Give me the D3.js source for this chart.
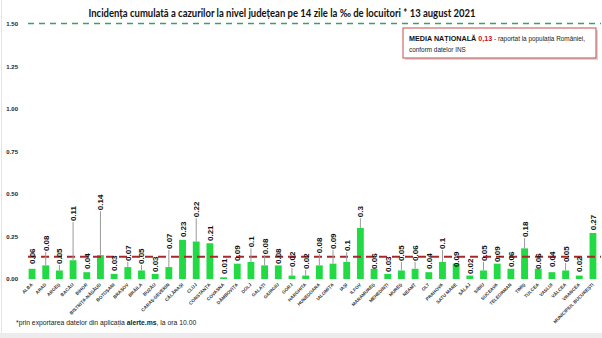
<!DOCTYPE html>
<html><head><meta charset="utf-8">
<script src="https://cdn.jsdelivr.net/npm/d3@7"></script>
<style>body{margin:0;background:#fff}svg{display:block}</style>
</head><body><svg id="c" width="602" height="338"></svg>
<script>
const counties = ["ALBA","ARAD","ARGEȘ","BACĂU","BIHOR","BISTRIȚA-NĂSĂUD","BOTOȘANI","BRAȘOV","BRĂILA","BUZĂU","CARAȘ-SEVERIN","CĂLĂRAȘI","CLUJ","CONSTANȚA","COVASNA","DÂMBOVIȚA","DOLJ","GALAȚI","GIURGIU","GORJ","HARGHITA","HUNEDOARA","IALOMIȚA","IAȘI","ILFOV","MARAMUREȘ","MEHEDINȚI","MUREȘ","NEAMȚ","OLT","PRAHOVA","SATU MARE","SĂLAJ","SIBIU","SUCEAVA","TELEORMAN","TIMIȘ","TULCEA","VASLUI","VÂLCEA","VRANCEA","MUNICIPIUL BUCUREȘTI"];
const incidence = [0.06,0.08,0.05,0.11,0.04,0.14,0.03,0.07,0.05,0.03,0.07,0.23,0.22,0.21,0.01,0.09,0.1,0.08,0.08,0.02,0.02,0.08,0.09,0.1,0.3,0.06,0.03,0.05,0.06,0.04,0.1,0.09,0.02,0.05,0.09,0.06,0.18,0.06,0.04,0.05,0.02,0.27];
const labelText = ["0.06","0.08","0.05","0.11","0.04","0.14","0.03","0.07","0.05","0.03","0.07","0.23","0.22","0.21","0.01","0.09","0.1","0.08","0.08","0.02","0.02","0.08","0.09","0.1","0.3","0.06","0.03","0.05","0.06","0.04","0.1","0.09","0.02","0.05","0.09","0.06","0.18","0.06","0.04","0.05","0.02","0.27"];
// label anchor (bottom of rotated data label), in data units
const labelAt = [0.082,0.158,0.082,0.334,0.053,0.398,0.041,0.10,0.082,0.035,0.17,0.24,0.357,0.217,0.023,0.10,0.18,0.14,0.082,0.064,0.053,0.146,0.17,0.158,0.357,0.053,0.035,0.10,0.10,0.053,0.17,0.064,0.023,0.10,0.094,0.064,0.24,0.053,0.064,0.094,0.035,0.28];
const yTicks = [0,0.25,0.5,0.75,1.0,1.25,1.5];
const nationalAvg = 0.13;
const maxLine = 1.5;

const svg = d3.select("#c");
const x = d3.scaleBand().domain(counties).range([25.2, 599.8]).paddingInner(0.5).paddingOuter(0.25);
const y = d3.scaleLinear().domain([0, 1.5]).range([279, 23.5]);

// page decorations
svg.append("rect").attr("x",0).attr("y",333).attr("width",602).attr("height",5).attr("fill","#ececec");
svg.append("line").attr("x1",1.5).attr("x2",1.5).attr("y1",0).attr("y2",333).attr("stroke","#e4e4e4");

// title
svg.append("text").attr("x",282).attr("y",17).attr("text-anchor","middle")
  .attr("font-family","Lato, 'Open Sans', sans-serif").attr("font-weight","bold").attr("font-size",12)
  .attr("fill","#111").attr("textLength",387).attr("lengthAdjust","spacingAndGlyphs")
  .text("Incidența cumulată a cazurilor la nivel județean pe 14 zile la ‰ de locuitori *  13 august 2021");

// y axis
const ya = svg.append("g").attr("transform","translate(18,0)")
  .call(d3.axisLeft(y).tickValues(yTicks).tickFormat(d3.format(".2f")).tickSize(0).tickPadding(0));
ya.select(".domain").remove();
ya.selectAll("text").attr("font-family","'Liberation Sans', Arial, sans-serif").attr("font-weight","bold").attr("font-size",6).attr("fill","#222");

// max dashed line
svg.append("line").attr("x1",28).attr("x2",601).attr("y1",y(maxLine)).attr("y2",y(maxLine))
  .attr("stroke","#3a9e72").attr("stroke-width",1.5).attr("stroke-dasharray","6,5");

// bars
svg.append("g").selectAll("rect").data(counties).join("rect")
  .attr("x", d => x(d)).attr("width", x.bandwidth())
  .attr("y", (d,i) => y(incidence[i])).attr("height", (d,i) => y(0) - y(incidence[i]))
  .attr("fill","#22da44");

// national average line
svg.append("line").attr("x1",28).attr("x2",601).attr("y1",y(nationalAvg)).attr("y2",y(nationalAvg))
  .attr("stroke","#a8282a").attr("stroke-width",2).attr("stroke-dasharray","8,5");

// leader lines
svg.append("g").selectAll("line").data(counties).join("line")
  .filter((d,i) => y(incidence[i]) - y(labelAt[i]) > 5)
  .attr("x1", d => x(d) + x.bandwidth()/2).attr("x2", d => x(d) + x.bandwidth()/2)
  .attr("y1", (d) => { const i = counties.indexOf(d); return y(labelAt[i]); })
  .attr("y2", (d) => { const i = counties.indexOf(d); return y(incidence[i]); })
  .attr("stroke","#9a9a9a").attr("stroke-width",1);

// data labels
svg.append("g").selectAll("text").data(counties).join("text")
  .attr("transform", (d,i) => `translate(${x(d)+x.bandwidth()/2+3},${y(labelAt[i])-1}) rotate(-90)`)
  .attr("font-family","'Liberation Sans', Arial, sans-serif").attr("font-weight","bold").attr("font-size",8)
  .attr("fill","#111").text((d,i) => labelText[i]);

// x axis labels
svg.append("g").selectAll("text").data(counties).join("text")
  .attr("transform", d => `translate(${x(d)+x.bandwidth()/2+1},285) rotate(-45)`)
  .attr("text-anchor","end")
  .attr("font-family","'Liberation Sans', Arial, sans-serif").attr("font-weight","bold").attr("font-size",4.6)
  .attr("fill","#333").text(d => d);

// legend box
const lg = svg.append("g");
lg.append("rect").attr("x",405).attr("y",30).attr("width",193).attr("height",30).attr("fill","#d8d8d8");
lg.append("rect").attr("x",403).attr("y",28).attr("width",193).attr("height",30).attr("fill","#fff").attr("stroke","#cc4a4a").attr("stroke-width",1);
const t1 = lg.append("text").attr("x",409).attr("y",41).attr("font-family","'Liberation Sans', Arial, sans-serif").attr("font-size",6.4).attr("fill","#222");
t1.append("tspan").attr("font-weight","bold").attr("font-size",7.2).attr("fill","#111").text("MEDIA NAȚIONALĂ ");
t1.append("tspan").attr("font-weight","bold").attr("font-size",7.2).attr("fill","#c0141c").text("0,13");
t1.append("tspan").text(" - raportat la populația României,");
lg.append("text").attr("x",409).attr("y",52).attr("font-family","'Liberation Sans', Arial, sans-serif").attr("font-size",6.4).attr("fill","#222").text("conform datelor INS");

// footnote
const fn = svg.append("text").attr("x",16).attr("y",325).attr("font-family","'Liberation Sans', Arial, sans-serif").attr("font-size",6.8).attr("fill","#222");
fn.append("tspan").text("*prin exportarea datelor din aplicația ");
fn.append("tspan").attr("font-weight","bold").text("alerte.ms");
fn.append("tspan").text(", la ora 10.00");
</script></body></html>
